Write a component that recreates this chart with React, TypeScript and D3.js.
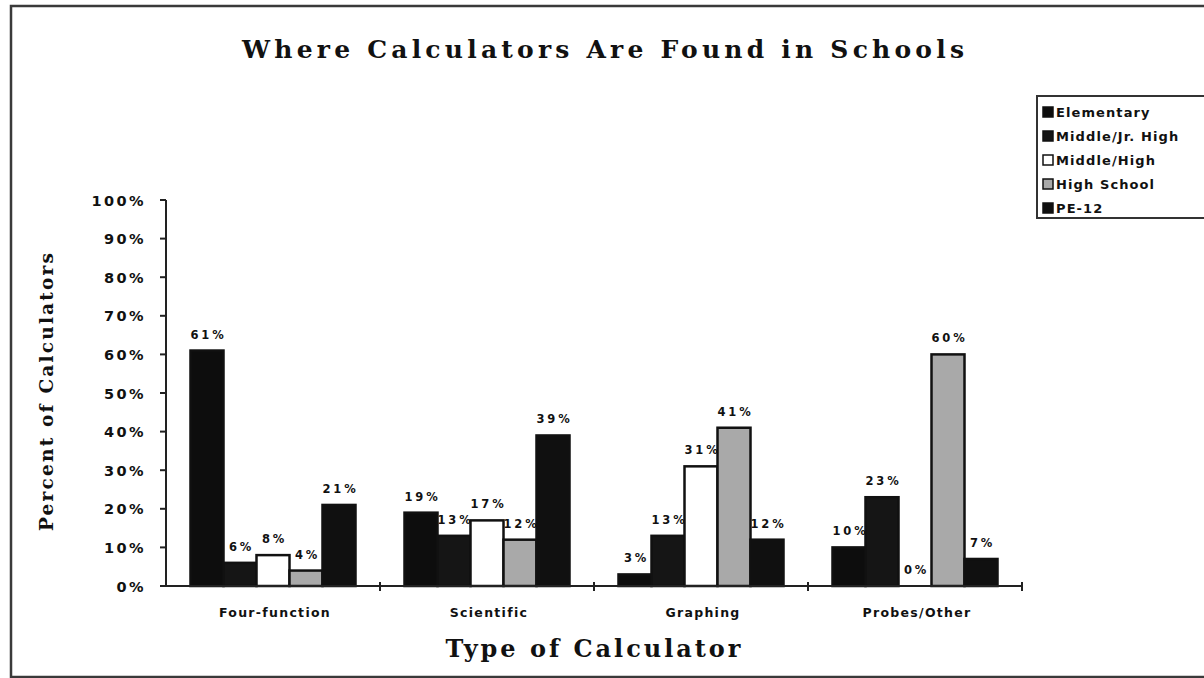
import React from "react";
import * as d3 from "d3";

// Share of calculators by school level for each calculator type (percent)
const categories = ["Four-function", "Scientific", "Graphing", "Probes/Other"];
const seriesNames = ["Elementary", "Middle/Jr. High", "Middle/High", "High School", "PE-12"];
const elementary = [61, 19, 3, 10];
const middleJrHigh = [6, 13, 13, 23];
const middleHigh = [8, 17, 31, 0];
const highSchool = [4, 12, 41, 60];
const pe12 = [21, 39, 12, 7];
const yTickValues = [0, 10, 20, 30, 40, 50, 60, 70, 80, 90, 100];

const seriesValues = [elementary, middleJrHigh, middleHigh, highSchool, pe12];
const seriesFill = ["#0d0d0d", "#151515", "#ffffff", "#a9a9a9", "#101010"];

const W = 1204;
const H = 678;
const plot = { left: 166, right: 1022, top: 200, bottom: 586 };

const sans = "'DejaVu Sans', 'Liberation Sans', Arial, sans-serif";
const serif = "'DejaVu Serif', 'Liberation Serif', serif";

export default function App() {
  const x = d3.scaleBand<string>().domain(categories).range([plot.left, plot.right]).padding(0);
  const groupW = 165;
  const inner = d3
    .scaleBand<string>()
    .domain(seriesNames)
    .range([(x.bandwidth() - groupW) / 2, (x.bandwidth() + groupW) / 2])
    .padding(0);
  const y = d3.scaleLinear().domain([0, 100]).range([plot.bottom, plot.top]);

  const marks = categories.flatMap((c, ci) =>
    seriesNames.map((s, si) => ({
      key: `${c}-${s}`,
      x: (x(c) as number) + (inner(s) as number),
      w: inner.bandwidth(),
      v: seriesValues[si][ci],
      si,
    }))
  );

  const boundaries = categories.map((c) => (x(c) as number) + x.bandwidth());

  return (
    <svg
      width={W}
      height={H}
      style={{ position: "absolute", left: 0, top: 0, background: "#fff" }}
    >
      <rect x={0} y={0} width={W} height={H} fill="#fff" />
      {/* outer frame */}
      <rect x={11} y={6} width={1205} height={671} fill="none" stroke="#3a3a3a" strokeWidth={2.5} />

      {/* title */}
      <text
        x={603}
        y={58}
        textAnchor="middle"
        fontFamily={serif}
        fontWeight="bold"
        fontSize={25}
        textLength={722}
        lengthAdjust="spacing"
        fill="#111"
      >
        Where Calculators Are Found in Schools
      </text>

      {/* y axis */}
      <line x1={plot.left} x2={plot.left} y1={plot.top} y2={plot.bottom} stroke="#222" strokeWidth={2} />
      {yTickValues.map((t) => (
        <g key={t}>
          <line x1={plot.left - 6} x2={plot.left} y1={y(t)} y2={y(t)} stroke="#222" strokeWidth={2} />
          <text
            x={146}
            y={y(t) + 5.5}
            textAnchor="end"
            fontFamily={sans}
            fontWeight="bold"
            fontSize={14.5}
            letterSpacing={2.4}
            fill="#111"
          >
            {`${t}%`}
          </text>
        </g>
      ))}
      <text
        transform={`translate(53, 392) rotate(-90)`}
        textAnchor="middle"
        fontFamily={serif}
        fontWeight="bold"
        fontSize={18.5}
        textLength={278}
        lengthAdjust="spacing"
        fill="#111"
      >
        Percent of Calculators
      </text>

      {/* value labels sit under the bars so neighbours may overlap them */}
      {marks.map((m) => (
        <text
          key={`l-${m.key}`}
          x={m.x + m.w / 2 + 1.5}
          y={y(m.v) - 12}
          textAnchor="middle"
          fontFamily={sans}
          fontWeight="bold"
          fontSize={11.5}
          letterSpacing={2.8}
          fill="#111"
        >
          {`${m.v}%`}
        </text>
      ))}

      {/* bars */}
      {marks.map((m) => (
        <rect
          key={`b-${m.key}`}
          x={m.x}
          y={y(m.v)}
          width={m.w}
          height={plot.bottom - y(m.v)}
          fill={seriesFill[m.si]}
          stroke="#111"
          strokeWidth={2.5}
        />
      ))}

      {/* x axis */}
      <line x1={plot.left} x2={plot.right} y1={plot.bottom} y2={plot.bottom} stroke="#222" strokeWidth={2} />
      {boundaries.map((b, i) => (
        <line key={i} x1={b} x2={b} y1={plot.bottom - 4} y2={plot.bottom + 5} stroke="#222" strokeWidth={2} />
      ))}
      {categories.map((c) => (
        <text
          key={c}
          x={(x(c) as number) + x.bandwidth() / 2 + 2}
          y={617}
          textAnchor="middle"
          fontFamily={sans}
          fontWeight="bold"
          fontSize={12.5}
          letterSpacing={1.3}
          fill="#111"
        >
          {c}
        </text>
      ))}
      <text
        x={593}
        y={657}
        textAnchor="middle"
        fontFamily={serif}
        fontWeight="bold"
        fontSize={24}
        textLength={295}
        lengthAdjust="spacing"
        fill="#111"
      >
        Type of Calculator
      </text>

      {/* legend */}
      <rect x={1037} y={96} width={180} height={122} fill="#fff" stroke="#333" strokeWidth={2} />
      {seriesNames.map((s, i) => {
        const cy = 112 + i * 24;
        return (
          <g key={s}>
            <rect
              x={1043}
              y={cy - 5}
              width={10}
              height={10}
              fill={seriesFill[i]}
              stroke="#111"
              strokeWidth={1.5}
            />
            <text
              x={1056}
              y={cy + 5}
              fontFamily={sans}
              fontWeight="bold"
              fontSize={13}
              letterSpacing={1.1}
              fill="#111"
            >
              {s}
            </text>
          </g>
        );
      })}
    </svg>
  );
}
